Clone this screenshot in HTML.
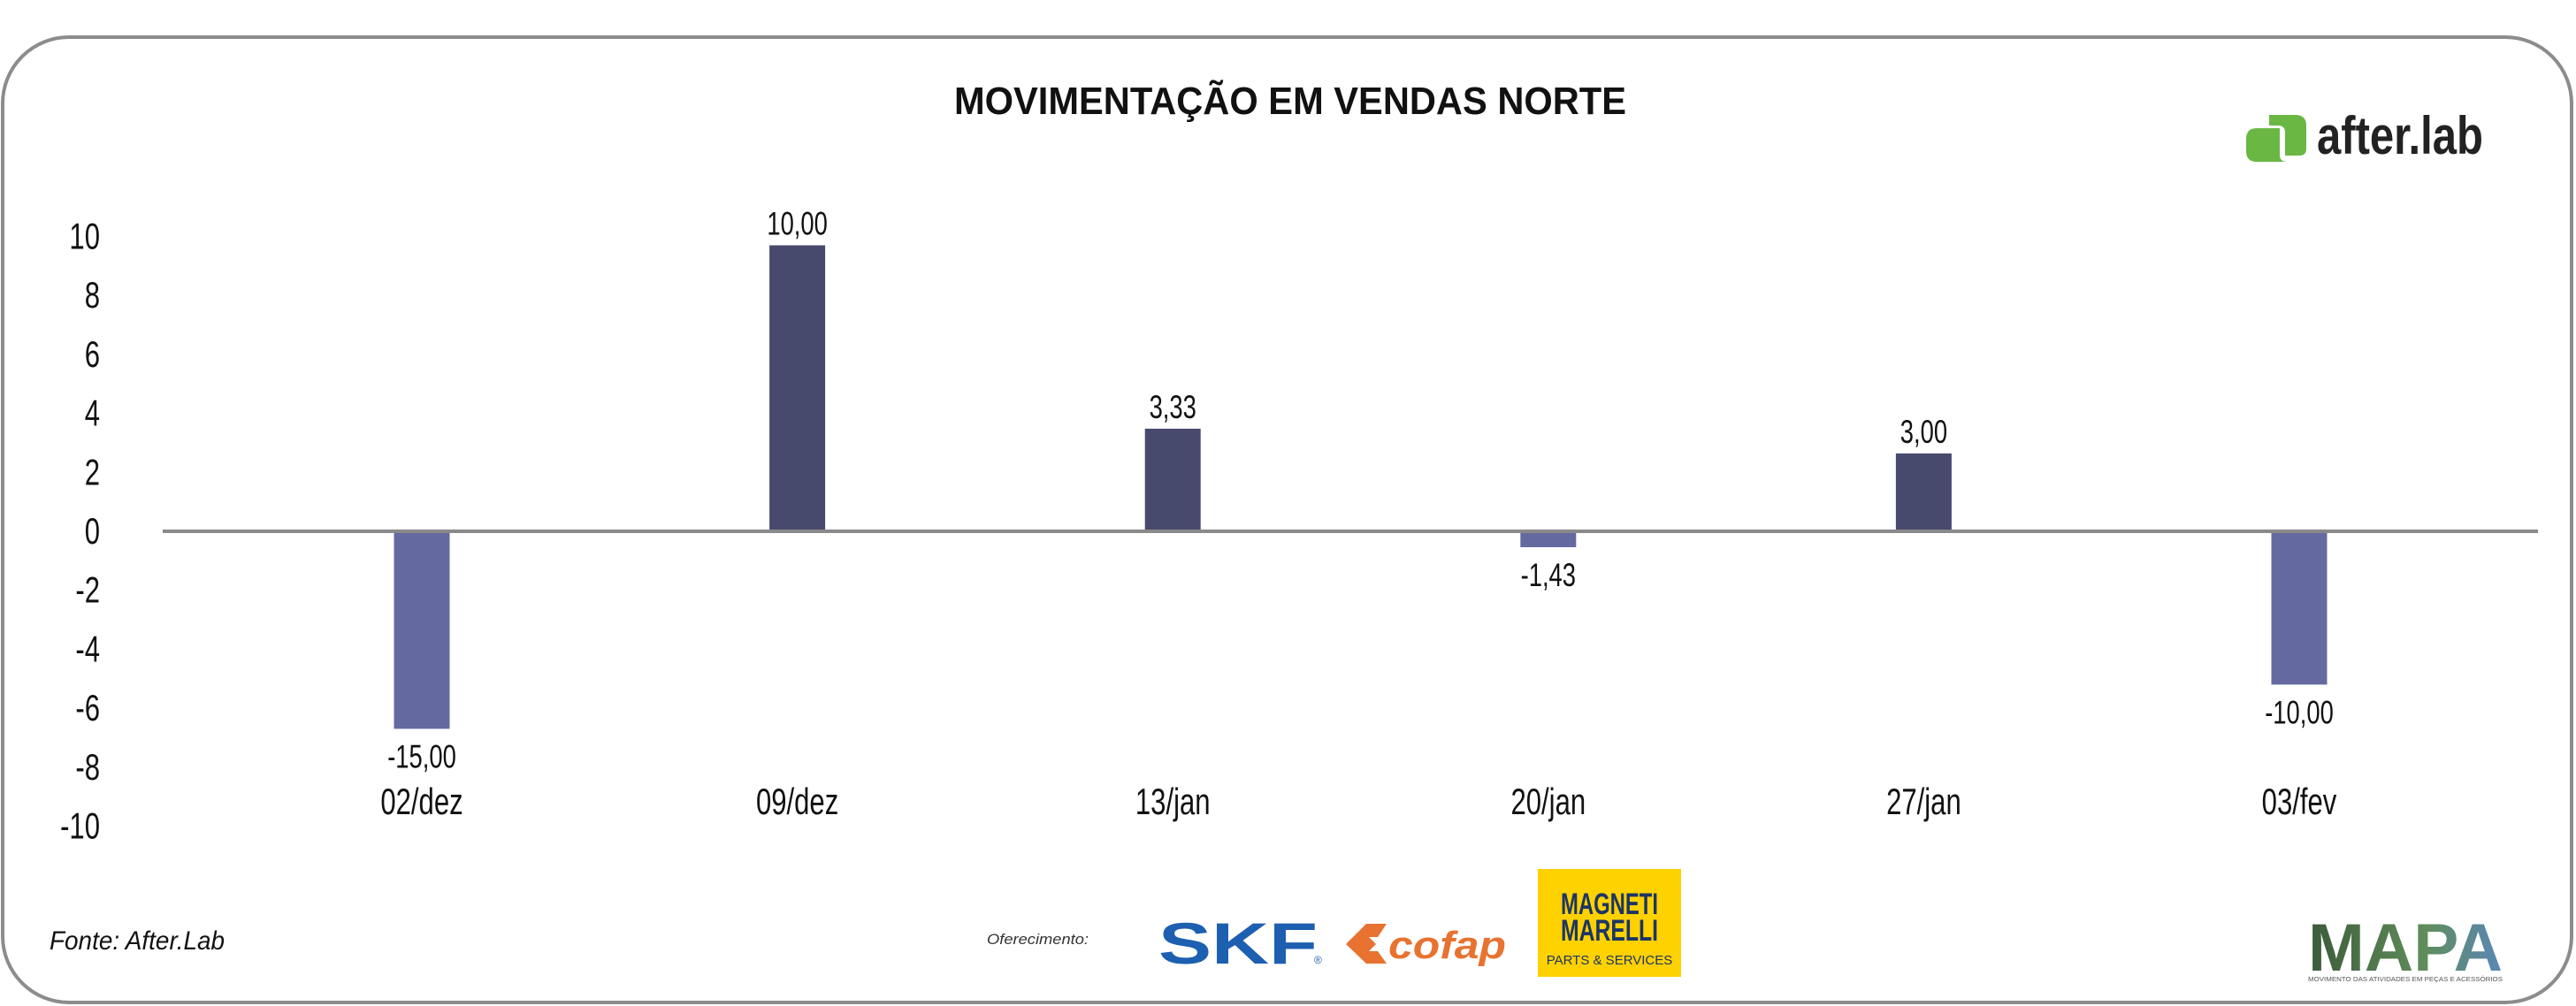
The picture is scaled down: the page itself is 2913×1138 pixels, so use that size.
<!DOCTYPE html>
<html><head><meta charset="utf-8"><style>
html,body{margin:0;padding:0;background:#fff;}
svg{display:block;}
text{font-family:"Liberation Sans",sans-serif;}
</style></head><body>
<svg id="chart" width="2913" height="1138" viewBox="0 0 2913 1138" xmlns="http://www.w3.org/2000/svg">
<rect x="3" y="42" width="2905" height="1092" rx="75" ry="75" fill="#fff" stroke="#8c8c8c" stroke-width="4"/>
<text x="1459" y="129" text-anchor="middle" font-size="44" font-weight="bold" fill="#111" textLength="760" lengthAdjust="spacingAndGlyphs">MOVIMENTAÇÃO EM VENDAS NORTE</text>
<g>
<path d="M2566 130 H2596 Q2608 130 2608 142 V168 Q2608 176 2600 176 H2584 V150 Q2584 142 2576 142 H2566 Z" fill="#6ab744"/>
<path d="M2552 145 H2578 V175 Q2578 183 2586 183 H2552 Q2540 183 2540 171 V157 Q2540 145 2552 145 Z" fill="#6ab744"/>
<text x="2620" y="174" font-size="60" font-weight="bold" fill="#222" textLength="188" lengthAdjust="spacingAndGlyphs">after.lab</text>
</g>
<g id="yaxis"></g>
<g id="bars"></g>
<text x="56" y="1074" font-size="30" font-style="italic" fill="#111" textLength="198" lengthAdjust="spacingAndGlyphs">Fonte: After.Lab</text>
<text x="1116" y="1068" font-size="17" font-style="italic" fill="#333" textLength="115" lengthAdjust="spacingAndGlyphs">Oferecimento:</text>
<g>
<text x="1310" y="1090" font-size="66" font-weight="bold" fill="#1d5fb0" textLength="180" lengthAdjust="spacingAndGlyphs">SKF</text>
<text x="1486" y="1090" font-size="12" fill="#1d5fb0">®</text>
</g>
<g>
<path d="M1522 1068 L1545 1045 H1568 L1558 1060 H1548 L1556 1068 L1548 1076 H1558 L1568 1090 H1545 Z" fill="#e87230"/>
<text x="1570" y="1084" font-size="44" font-weight="bold" font-style="italic" fill="#e87230" textLength="133" lengthAdjust="spacingAndGlyphs">cofap</text>
</g>
<g>
<rect x="1739" y="983" width="162" height="122" fill="#fed100"/>
<text x="1820" y="1034" text-anchor="middle" font-size="34" font-weight="bold" fill="#1c3565" textLength="110" lengthAdjust="spacingAndGlyphs">MAGNETI</text>
<text x="1820" y="1064" text-anchor="middle" font-size="34" font-weight="bold" fill="#1c3565" textLength="110" lengthAdjust="spacingAndGlyphs">MARELLI</text>
<text x="1820" y="1091" text-anchor="middle" font-size="15" fill="#1c3565">PARTS &amp; SERVICES</text>
</g>
<g>
<defs><linearGradient id="mg" x1="0" y1="0" x2="1" y2="0"><stop offset="0" stop-color="#3c5a3a"/><stop offset="0.6" stop-color="#5f8d5a"/><stop offset="1" stop-color="#5a86b8"/></linearGradient></defs>
<text x="2610" y="1098" font-size="76" font-weight="bold" fill="url(#mg)" textLength="220" lengthAdjust="spacingAndGlyphs">MAPA</text>
<text x="2610" y="1110" font-size="7" fill="#555" textLength="220" lengthAdjust="spacingAndGlyphs">MOVIMENTO DAS ATIVIDADES EM PEÇAS E ACESSÓRIOS</text>
</g>
</svg>
<script>
const categories = ["02/dez","09/dez","13/jan","20/jan","27/jan","03/fev"];
const plottedValues = [-6.7, 9.7, 3.48, -0.54, 2.64, -5.2];
const valueLabels = ["-15,00","10,00","3,33","-1,43","3,00","-10,00"];
const yTicks = [10,8,6,4,2,0,-2,-4,-6,-8,-10];

const NS = "http://www.w3.org/2000/svg";
const yZero = 601, pxPerUnit = 33.35;
function y(v){ return yZero - v * pxPerUnit; }
const xFirst = 477, xLast = 2600;
function x(i){ return xFirst + i * (xLast - xFirst) / (categories.length - 1); }
function mk(tag, attrs, parent, txt){
  const e = document.createElementNS(NS, tag);
  for (const k in attrs) e.setAttribute(k, attrs[k]);
  if (txt !== undefined) e.textContent = txt;
  parent.appendChild(e); return e;
}
function ctext(px, py, anchor, size, txt, parent){
  return mk("text", {x:0, y:0, "text-anchor":anchor, "font-size":size, fill:"#111",
    transform:"translate(" + px + "," + py + ") scale(0.74,1)"}, parent, txt);
}
const ya = document.getElementById("yaxis");
yTicks.forEach(t => {
  const el = ctext(113, y(t) + 14, "end", 42, String(t), ya);
  
  
});
const bg = document.getElementById("bars");
const barW = 63;
categories.forEach((c, i) => {
  const v = plottedValues[i];
  const cx = x(i);
  const r = mk("rect", {x:cx-barW/2, y:Math.min(y(v), yZero), width:barW, height:Math.abs(y(v)-yZero), fill: v >= 0 ? "#474a6c" : "#646aa0"}, bg);
  
  
  const ly = v >= 0 ? y(v) - 12 : y(v) + 44;
  const lb = ctext(cx, ly, "middle", 37, valueLabels[i], bg);
  
  
  const cl = ctext(cx, 921, "middle", 42, c, bg);
  
  
});
const zl = mk("line", {x1:184, x2:2870, y1:yZero, y2:yZero, stroke:"#8a8a8a", "stroke-width":4}, bg);


</script>
</body></html>
